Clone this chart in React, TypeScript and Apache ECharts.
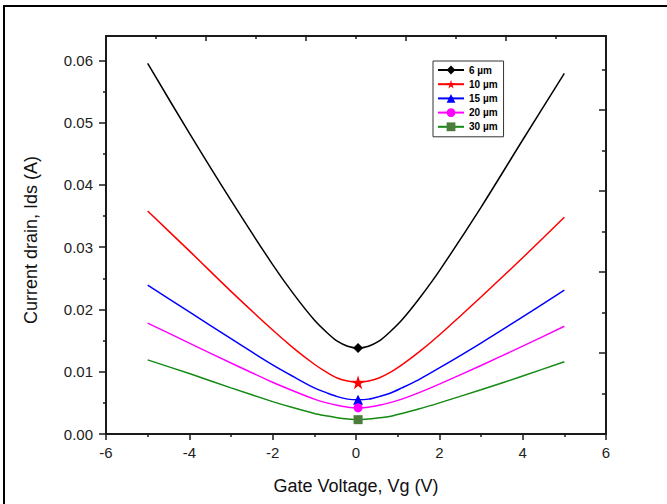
import React, { useEffect, useRef } from "react";
import * as echarts from "echarts";

const vg = [-5, -4, -3, -2, -1.5, -1, -0.7, -0.45, -0.2, 0.05, 0.3, 0.55, 0.8, 1.1, 1.5, 2, 3, 4, 5];
const markerIndex = 9;

const ids6 = [0.0595, 0.0483, 0.0375, 0.0272, 0.0225, 0.0183, 0.0163, 0.0149, 0.0141, 0.0138, 0.0141, 0.0149, 0.0163, 0.0183, 0.0216, 0.0262, 0.0364, 0.0472, 0.0579];
const ids10 = [0.0358, 0.0294, 0.0229, 0.0167, 0.0138, 0.0112, 0.0099, 0.009, 0.0085, 0.0083, 0.0085, 0.009, 0.0098, 0.0111, 0.0131, 0.0159, 0.022, 0.0283, 0.0348];
const ids15 = [0.0239, 0.0196, 0.0153, 0.0111, 0.0092, 0.0074, 0.0066, 0.006, 0.0056, 0.0055, 0.0056, 0.006, 0.0065, 0.0074, 0.0087, 0.0106, 0.0146, 0.0188, 0.0231];
const ids20 = [0.0178, 0.0146, 0.0114, 0.0083, 0.0069, 0.0056, 0.005, 0.0046, 0.0043, 0.0042, 0.0043, 0.0046, 0.005, 0.0056, 0.0066, 0.008, 0.011, 0.0141, 0.0173];
const ids30 = [0.0119, 0.0097, 0.0074, 0.0052, 0.0042, 0.0033, 0.0029, 0.0026, 0.0024, 0.0023, 0.0024, 0.0026, 0.0028, 0.0033, 0.004, 0.005, 0.0071, 0.0093, 0.0116];

const seriesNames = ["6 µm", "10 µm", "15 µm", "20 µm", "30 µm"];

const xMajor = [-6, -4, -2, 0, 2, 4, 6];
const xMinor = [-5, -3, -1, 1, 3, 5];
const yMajor = [0, 0.01, 0.02, 0.03, 0.04, 0.05, 0.06];
const yMinor = [0.005, 0.015, 0.025, 0.035, 0.045, 0.055];
const topMajor = [2, 4, 6, 8];
const topMinor = [1, 3, 5, 7, 9];
const rightMajor = [1, 2, 3, 4];
const rightMinor = [0.5, 1.5, 2.5, 3.5, 4.5];

const FONT = "'Liberation Sans', Arial, sans-serif";
const AX = "#1a1a1a";

export default function App() {
  const ref = useRef<HTMLDivElement>(null);
  useEffect(() => {
    if (!ref.current) return;
    const chart = echarts.init(ref.current, undefined, { renderer: "svg" });

    const styles = [
      { line: "#000000", item: "#000000", symbol: "diamond", size: 10 },
      { line: "#ff0000", item: "#ff0000", symbol: "path://M50,0 L61,35 L98,35 L68,57 L79,91 L50,70 L21,91 L32,57 L2,35 L39,35 Z", size: 14 },
      { line: "#0000ff", item: "#0000ff", symbol: "triangle", size: 10 },
      { line: "#ff00ff", item: "#ff00ff", symbol: "circle", size: 9 },
      { line: "#138a13", item: "#4c7c3c", symbol: "rect", size: 9 },
    ];
    const all = [ids6, ids10, ids15, ids20, ids30];

    const series = all.map((arr, s) => ({
      name: seriesNames[s],
      type: "line",
      xAxisIndex: 0,
      yAxisIndex: 0,
      smooth: 0.3,
      symbol: styles[s].symbol,
      symbolSize: styles[s].size,
      showSymbol: true,
      lineStyle: { color: styles[s].line, width: 1.5 },
      itemStyle: { color: styles[s].item },
      data: arr.map((v, i) =>
        i === markerIndex ? { value: [vg[i], v] } : { value: [vg[i], v], symbol: "none" }
      ),
    }));

    const line = { show: true, onZero: false, lineStyle: { color: AX, width: 2 } };
    const noLine = { show: false, onZero: false };

    const option: any = {
      animation: false,
      grid: { left: 106, right: 61, top: 36, bottom: 70, containLabel: false },
      xAxis: [
        {
          type: "value", position: "bottom", min: -6, max: 6, interval: 2,
          axisLine: line,
          axisTick: { show: true, inside: false, length: 6, customValues: xMajor, lineStyle: { color: AX, width: 1.5 } },
          axisLabel: { customValues: xMajor, margin: 11, fontSize: 15, color: "#222", fontFamily: FONT, formatter: (v: number) => String(v) },
          splitLine: { show: false },
        },
        {
          type: "value", position: "bottom", min: -6, max: 6, interval: 2,
          axisLine: noLine,
          axisTick: { show: true, inside: false, length: 3, customValues: xMinor, lineStyle: { color: AX, width: 1.5 } },
          axisLabel: { show: false },
          splitLine: { show: false },
        },
        {
          type: "value", position: "top", min: 0, max: 10, interval: 2,
          axisLine: line,
          axisTick: { show: true, inside: true, length: 5, customValues: topMajor, lineStyle: { color: AX, width: 1.5 } },
          axisLabel: { show: false },
          splitLine: { show: false },
        },
        {
          type: "value", position: "top", min: 0, max: 10, interval: 2,
          axisLine: noLine,
          axisTick: { show: true, inside: true, length: 3, customValues: topMinor, lineStyle: { color: AX, width: 1.5 } },
          axisLabel: { show: false },
          splitLine: { show: false },
        },
      ],
      yAxis: [
        {
          type: "value", position: "left", min: 0, max: 0.0639, interval: 0.01,
          axisLine: line,
          axisTick: { show: true, inside: false, length: 7, customValues: yMajor, lineStyle: { color: AX, width: 1.5 } },
          axisLabel: { customValues: yMajor, margin: 13, fontSize: 15, color: "#222", fontFamily: FONT, formatter: (v: number) => v.toFixed(2) },
          splitLine: { show: false },
        },
        {
          type: "value", position: "left", min: 0, max: 0.0639, interval: 0.01,
          axisLine: noLine,
          axisTick: { show: true, inside: false, length: 3, customValues: yMinor, lineStyle: { color: AX, width: 1.5 } },
          axisLabel: { show: false },
          splitLine: { show: false },
        },
        {
          type: "value", position: "right", min: 0, max: 4.914, interval: 1,
          axisLine: line,
          axisTick: { show: true, inside: true, length: 7, customValues: rightMajor, lineStyle: { color: AX, width: 1.5 } },
          axisLabel: { show: false },
          splitLine: { show: false },
        },
        {
          type: "value", position: "right", min: 0, max: 4.914, interval: 1,
          axisLine: noLine,
          axisTick: { show: true, inside: true, length: 4, customValues: rightMinor, lineStyle: { color: AX, width: 1.5 } },
          axisLabel: { show: false },
          splitLine: { show: false },
        },
      ],
      legend: {
        orient: "vertical",
        left: 433,
        top: 61,
        padding: [4, 6, 5, 4],
        itemWidth: 26,
        itemHeight: 11,
        itemGap: 4.2,
        borderColor: "#333",
        borderWidth: 1,
        backgroundColor: "#fff",
        textStyle: { fontSize: 10, fontWeight: "bold", color: "#000", fontFamily: FONT },
        data: seriesNames,
      },
      graphic: [
        {
          type: "polyline",
          shape: { points: [[4, 520], [4, 6], [700, 6]] },
          style: { stroke: "#000", lineWidth: 2, fill: null },
          silent: true,
        },
        {
          type: "text",
          x: 356,
          y: 486,
          style: { text: "Gate Voltage, Vg (V)", fontSize: 18, fontFamily: FONT, fill: "#111", align: "center", verticalAlign: "middle" },
        },
        {
          type: "text",
          x: 31,
          y: 240,
          rotation: Math.PI / 2,
          style: { text: "Current drain, Ids (A)", fontSize: 18, fontFamily: FONT, fill: "#111", align: "center", verticalAlign: "middle" },
        },
      ],
      series,
    };
    chart.setOption(option);
    return () => chart.dispose();
  }, []);
  return (
    <div
      ref={ref}
      style={{ position: "fixed", left: 0, top: 0, width: 667, height: 504, background: "#fff" }}
    />
  );
}
